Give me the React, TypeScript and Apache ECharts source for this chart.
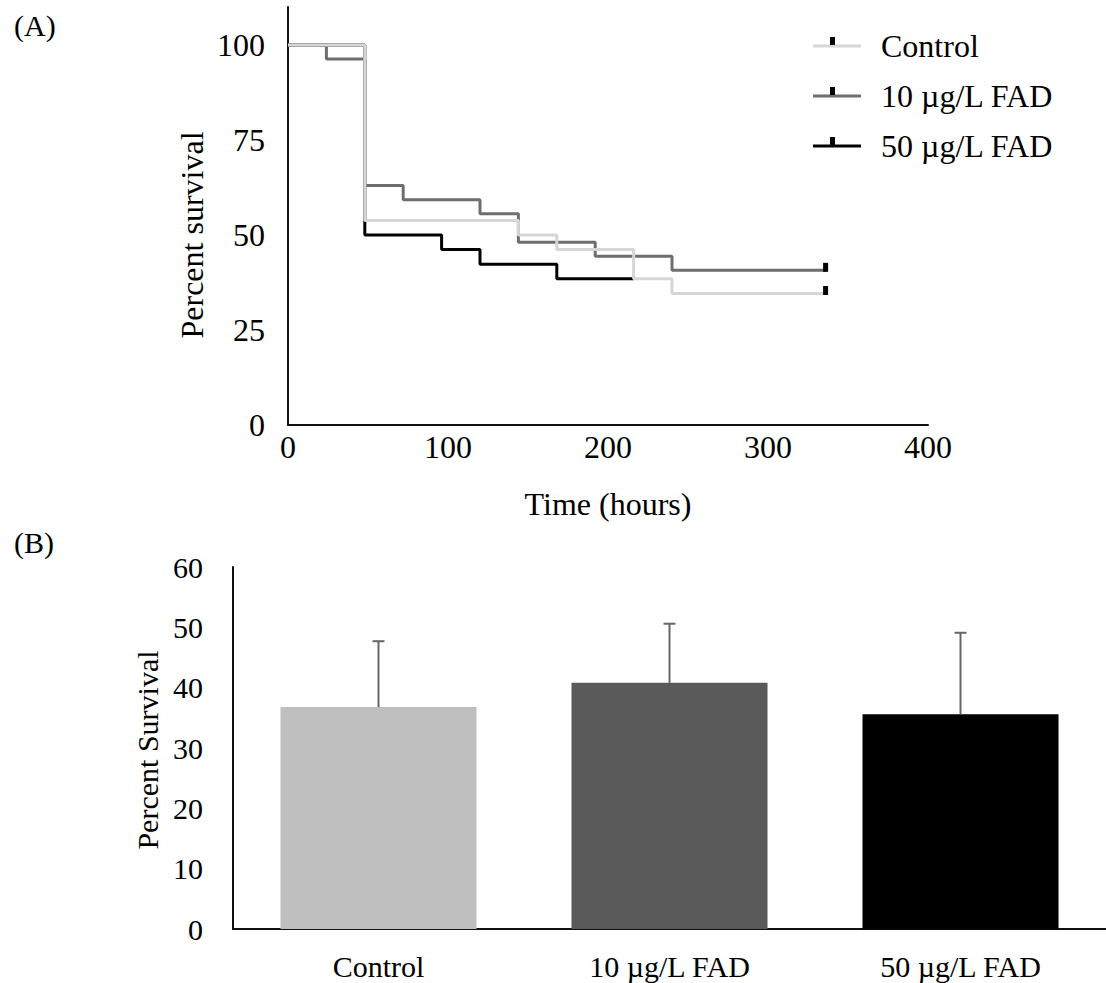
import React, { useEffect, useRef } from "react";
import * as echarts from "echarts";

// ---- Panel A: Kaplan–Meier survival (time in hours, percent survival) ----
const controlTimes = [0, 48, 144, 168, 216, 240, 336];
const controlSurvival = [100, 53.8, 50, 46.2, 38.5, 34.6, 34.6];

const fad10Times = [0, 24, 48, 72, 120, 144, 192, 240, 336];
const fad10Survival = [100, 96.3, 63, 59.3, 55.6, 48.1, 44.4, 40.7, 40.7];

const fad50Times = [0, 48, 96, 120, 168, 216];
const fad50Survival = [100, 50, 46.2, 42.3, 38.5, 38.5];

const seriesNames = ["Control", "10 µg/L FAD", "50 µg/L FAD"];
const xTicksA = [0, 100, 200, 300, 400];
const yTicksA = [0, 25, 50, 75, 100];

// ---- Panel B: mean percent survival with error bars ----
const groups = ["Control", "10 µg/L FAD", "50 µg/L FAD"];
const meanSurvival = [36.8, 40.8, 35.6];
const errorSurvival = [10.9, 9.8, 13.5];

const FONT = "'Liberation Serif', 'Times New Roman', serif";
const lineColors = ["#d6d6d6", "#6e6e6e", "#000000"];
const barColors = ["#bfbfbf", "#595959", "#000000"];

function kmData(times: number[], vals: number[], censor: boolean) {
  return times.map((t, i) => {
    const last = i === times.length - 1;
    if (last && censor) {
      return {
        value: [t, vals[i]],
        symbol: "rect",
        symbolSize: [5, 9],
        symbolOffset: [0, -3],
        itemStyle: { color: "#000", opacity: 1 },
      };
    }
    return { value: [t, vals[i]] };
  });
}

export default function App() {
  const ref = useRef<HTMLDivElement>(null);
  useEffect(() => {
    if (!ref.current) return;
    const chart = echarts.init(ref.current, null, { renderer: "svg" });
    const legendLineY = [45, 95, 145];
    const option: any = {
      animation: false,
      backgroundColor: "#ffffff",
      textStyle: { fontFamily: FONT, color: "#000" },
      grid: [
        { left: 288, top: 7, width: 640, height: 418 },
        { left: 233, top: 567, width: 879, height: 362 },
      ],
      legend: {
        orient: "vertical",
        left: 808,
        top: 23,
        itemWidth: 48,
        itemHeight: 3,
        itemGap: 14,
        icon: "rect",
        selectedMode: false,
        data: seriesNames,
        textStyle: {
          fontFamily: FONT,
          fontSize: 32,
          lineHeight: 36,
          color: "#000",
          padding: [0, 0, 0, 15],
        },
      },
      xAxis: [
        {
          type: "value",
          gridIndex: 0,
          min: xTicksA[0],
          max: xTicksA[xTicksA.length - 1],
          interval: 100,
          axisLine: { lineStyle: { color: "#111", width: 2 } },
          axisTick: { show: false },
          splitLine: { show: false },
          axisLabel: { fontSize: 32, color: "#000", fontFamily: FONT, margin: 6 },
        },
        {
          type: "category",
          gridIndex: 1,
          data: groups,
          axisLine: { lineStyle: { color: "#111", width: 2 } },
          axisTick: { show: false },
          axisLabel: { fontSize: 30, color: "#000", fontFamily: FONT, margin: 22 },
        },
      ],
      yAxis: [
        {
          type: "value",
          gridIndex: 0,
          min: 0,
          max: 110,
          interval: 25,
          axisLine: { show: true, lineStyle: { color: "#111", width: 2 } },
          axisTick: { show: false },
          splitLine: { show: false },
          axisLabel: {
            fontSize: 32,
            color: "#000",
            fontFamily: FONT,
            margin: 23,
            formatter: (v: number) => (yTicksA.indexOf(v) >= 0 ? String(v) : ""),
          },
        },
        {
          type: "value",
          gridIndex: 1,
          min: 0,
          max: 60,
          interval: 10,
          axisLine: { show: true, lineStyle: { color: "#111", width: 2 } },
          axisTick: { show: false },
          splitLine: { show: false },
          axisLabel: { fontSize: 30, color: "#000", fontFamily: FONT, margin: 30 },
        },
      ],
      series: [
        {
          name: seriesNames[2],
          type: "line",
          step: "end",
          xAxisIndex: 0,
          yAxisIndex: 0,
          symbol: "none",
          color: lineColors[2],
          lineStyle: { color: lineColors[2], width: 3 },
          data: kmData(fad50Times, fad50Survival, false),
          z: 2,
        },
        {
          name: seriesNames[1],
          type: "line",
          step: "end",
          xAxisIndex: 0,
          yAxisIndex: 0,
          symbol: "none",
          color: lineColors[1],
          lineStyle: { color: lineColors[1], width: 3 },
          data: kmData(fad10Times, fad10Survival, true),
          z: 3,
        },
        {
          name: seriesNames[0],
          type: "line",
          step: "end",
          xAxisIndex: 0,
          yAxisIndex: 0,
          symbol: "none",
          color: lineColors[0],
          lineStyle: { color: lineColors[0], width: 3 },
          data: kmData(controlTimes, controlSurvival, true),
          z: 4,
        },
        {
          type: "bar",
          xAxisIndex: 1,
          yAxisIndex: 1,
          barWidth: 196,
          data: meanSurvival.map((v, i) => ({ value: v, itemStyle: { color: barColors[i] } })),
        },
        {
          type: "custom",
          xAxisIndex: 1,
          yAxisIndex: 1,
          z: 5,
          data: groups.map((g, i) => [i, meanSurvival[i], errorSurvival[i]]),
          renderItem: (params: any, api: any) => {
            const base = api.coord([api.value(0), api.value(1)]);
            const top = api.coord([api.value(0), api.value(1) + api.value(2)]);
            const style = { stroke: "#666666", lineWidth: 2 };
            return {
              type: "group",
              children: [
                { type: "line", shape: { x1: base[0], y1: base[1], x2: top[0], y2: top[1] }, style },
                { type: "line", shape: { x1: top[0] - 6, y1: top[1], x2: top[0] + 6, y2: top[1] }, style },
              ],
            };
          },
        },
      ],
      graphic: [
        { type: "text", left: 14, top: 10, style: { text: "(A)", font: `30px ${FONT}`, fill: "#000" } },
        { type: "text", left: 14, top: 527, style: { text: "(B)", font: `30px ${FONT}`, fill: "#000" } },
        {
          type: "text",
          x: 608,
          y: 504,
          style: { text: "Time (hours)", font: `32px ${FONT}`, fill: "#000", align: "center", verticalAlign: "middle" },
        },
        {
          type: "text",
          x: 192,
          y: 235,
          rotation: Math.PI / 2,
          style: { text: "Percent survival", font: `32px ${FONT}`, fill: "#000", align: "center", verticalAlign: "middle" },
        },
        {
          type: "text",
          x: 147,
          y: 750,
          rotation: Math.PI / 2,
          style: { text: "Percent Survival", font: `30px ${FONT}`, fill: "#000", align: "center", verticalAlign: "middle" },
        },
        ...legendLineY.map((y) => ({
          type: "rect",
          z: 100,
          shape: { x: 830, y: y - 8, width: 5, height: 8 },
          style: { fill: "#000" },
        })),
      ],
    };
    chart.setOption(option);
    return () => chart.dispose();
  }, []);
  return (
    <div
      ref={ref}
      style={{ position: "absolute", left: 0, top: 0, width: 1106, height: 983 }}
    />
  );
}
